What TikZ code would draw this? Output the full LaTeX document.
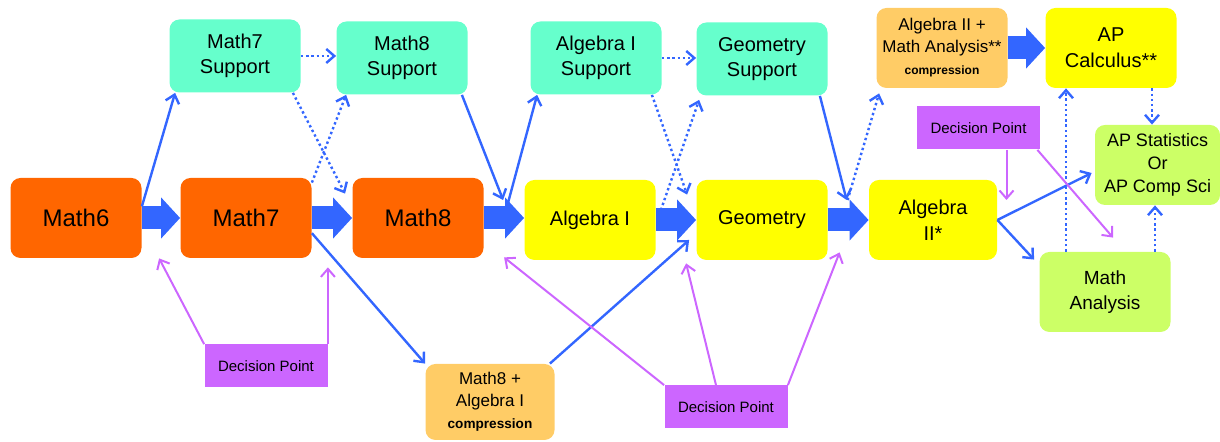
\documentclass[tikz,border=0pt]{standalone}
\usepackage{fontspec}
\setmainfont{Liberation Sans}
\usepackage{xcolor}
\usetikzlibrary{positioning,calc,arrows.meta}

\definecolor{gradeorange}{HTML}{FF6600}
\definecolor{supteal}{HTML}{66FFCC}
\definecolor{courseyellow}{HTML}{FFFF00}
\definecolor{comppeach}{HTML}{FFCC66}
\definecolor{aplime}{HTML}{CCFF66}
\definecolor{decpurple}{HTML}{CC66FF}
\definecolor{arrblue}{HTML}{3366FF}

\tikzset{
  box/.style={rounded corners=5pt, align=center, inner sep=1pt, minimum width=65.5pt, minimum height=40pt},
  gradebox/.style={box, fill=gradeorange, font=\fontsize{12}{14}\selectfont},
  supbox/.style={box, fill=supteal, minimum height=36.5pt, font=\fontsize{10}{12.5}\selectfont},
  coursebox/.style={box, fill=courseyellow, font=\fontsize{10}{13}\selectfont},
  compbox/.style={box, fill=comppeach, font=\fontsize{8.5}{11}\selectfont},
  apbox/.style={box, fill=aplime, font=\fontsize{9.5}{12.5}\selectfont},
  decbox/.style={fill=decpurple, minimum width=61.5pt, minimum height=21.5pt, inner sep=1pt, font=\fontsize{7.5}{9}\selectfont},
  fat/.style={draw=arrblue, line width=11.5pt, -{Triangle[length=9.5pt,width=20pt]}},
  thin/.style={draw=arrblue, line width=1.2pt, -{Straight Barb[length=4pt,width=7pt]}},
  dotarrow/.style={thin, dash pattern=on 1.2pt off 1.4pt},
  decarrow/.style={draw=decpurple, line width=1pt, -{Straight Barb[length=4pt,width=7pt]}}
}
\newcommand{\compr}[1]{{\bfseries\fontsize{#1}{8}\selectfont compression}}

\begin{document}
\begin{tikzpicture}[x=0.5pt, y=0.5pt]
    \useasboundingbox (0,0) rectangle (1220,442);

    % Main row
    \node[gradebox] (m6) at (76,224) {Math6};
    \node[gradebox] (m7) at (246,224) {Math7};
    \node[gradebox] (m8) at (418,224) {Math8};
    \node[coursebox] (alg1) at (590,222) {Algebra I};
    \node[coursebox] (geo) at (762,222) {Geometry};
    \node[coursebox, minimum width=64pt] (alg2) at (933,222) {Algebra\\II*};

    % Support row
    \node[supbox] (sup7) at (235,386) {Math7\\Support};
    \node[supbox] (sup8) at (402,384) {Math8\\Support};
    \node[supbox] (sup1) at (596,384) {Algebra I\\Support};
    \node[supbox] (supgeo) at (762,383) {Geometry\\Support};

    % Compression and AP courses
    \node[compbox, minimum width=64.5pt, minimum height=38pt] (comp8) at (490,40) {Math8 +\\Algebra I\\\compr{6.8}};
    \node[compbox] (alg2ma) at (942,394) {Algebra II +\\Math Analysis**\\\compr{6}};
    \node[coursebox] (apcalc) at (1111,394) {AP\\Calculus**};
    \node[apbox, minimum width=62.5pt, font=\fontsize{9}{11.5}\selectfont] (apstat) at (1157.5,277) {AP Statistics\\Or\\AP Comp Sci};
    \node[apbox] (manal) at (1105,150) {Math\\Analysis};

    % Decision points
    \node[decbox] (dp1) at (266,76) {Decision Point};
    \node[decbox] (dp2) at (726,35) {Decision Point};
    \node[decbox] (dp3) at (978.5,314) {Decision Point};

    % Fat arrows
    \foreach \a/\b in {m6/m7, m7/m8, m8/alg1, alg1/geo, geo/alg2, alg2ma/apcalc}
        \draw[fat] (\a.east) -- (\a.east -| \b.west);

    % Solid arrows
    \draw[thin] (m6.10) -- ([xshift=3pt]sup7.south west);
    \draw[thin] ([xshift=-3pt]sup8.south east) -- ([xshift=-10.5pt,yshift=10pt]alg1.west);
    \draw[thin] ([xshift=11.5pt,yshift=5.5pt]m8.east) -- ([xshift=3.5pt]sup1.south west);
    \draw[thin] (m7.-13) -- (comp8.north west);
    \draw[thin] ([xshift=-2.5pt]comp8.north east) -- ([xshift=-3.5pt,yshift=-10pt]geo.west);
    \draw[thin] ([xshift=-4pt]supgeo.south east) -- ([xshift=-11pt,yshift=10pt]alg2.west);
    \draw[thin] (alg2.east) -- ([xshift=-1.5pt,yshift=-4pt]apstat.west);
    \draw[thin] (alg2.east) -- ([xshift=-2.5pt,yshift=-4pt]manal.north west);

    % Dotted arrows
    \draw[dotarrow] (sup7.east) -- (sup7.east -| sup8.west);
    \draw[dotarrow] ([xshift=-4pt]sup7.south east) -- ([xshift=-3.5pt,yshift=-8pt]m8.north west);
    \draw[dotarrow] ([yshift=-2.5pt]m7.north east) -- ([xshift=5pt]sup8.south west);
    \draw[dotarrow] (sup1.east) -- (sup1.east -| supgeo.west);
    \draw[dotarrow] ([xshift=-5pt]sup1.south east) -- ([xshift=-4.5pt,yshift=-7.5pt]geo.north west);
    \draw[dotarrow] ([xshift=2.5pt,yshift=5pt]alg1.east) -- ([xshift=1.5pt,yshift=-2pt]supgeo.south west);
    \draw[dotarrow] ([xshift=-10.5pt,yshift=10pt]alg2.west) -- ([xshift=1.5pt,yshift=-2.5pt]alg2ma.south west);
    \draw[dotarrow] ([xshift=-19.5pt]manal.north) -- ([xshift=-19.5pt]manal.north |- apcalc.south);
    \draw[dotarrow] ([xshift=20.5pt]apcalc.south) -- ([xshift=20.5pt]apcalc.south |- apstat.north);
    \draw[dotarrow] ([xshift=25pt]manal.north) -- ([xshift=25pt]manal.north |- apstat.south);

    % Decision arrows
    \draw[decarrow] (dp1.north west) -- ([xshift=-10.5pt]m7.south west);
    \draw[decarrow] (dp1.north east) -- ([xshift=8pt,yshift=-4.5pt]m7.south east);
    \draw[decarrow] (dp2.north west) -- ([xshift=-10pt,yshift=1.5pt]alg1.south west);
    \draw[decarrow] ([xshift=-5pt]dp2.north) -- ([xshift=-5pt,yshift=-1.5pt]geo.south west);
    \draw[decarrow] (dp2.north east) -- ([xshift=-14.5pt,yshift=4pt]alg2.south west);
    \draw[decarrow] ([xshift=14pt]dp3.south) -- ([xshift=14pt,yshift=10pt]dp3.south |- alg2.east);
    \draw[decarrow] ([xshift=-1.5pt]dp3.south east) -- ([xshift=4pt,yshift=7pt]manal.north);
\end{tikzpicture}
\end{document}
